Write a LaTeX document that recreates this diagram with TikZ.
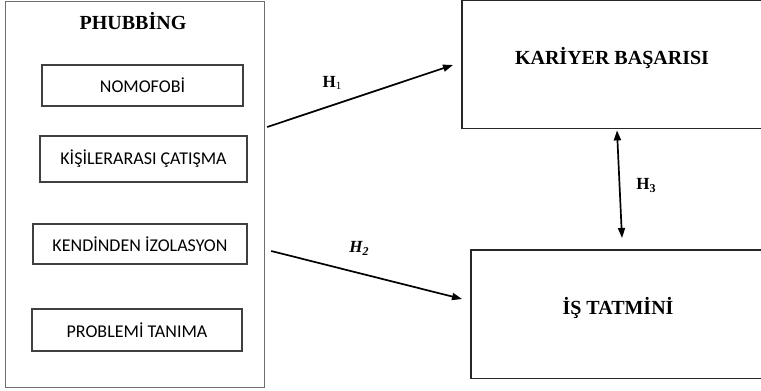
\documentclass[tikz,border=0pt]{standalone}
\usepackage{fontspec}
\setmainfont{Liberation Serif}
\newfontfamily\calibrifont{Carlito}
\usetikzlibrary{arrows.meta}
\definecolor{boxgray}{HTML}{6E6E6E}
\definecolor{innergray}{HTML}{404040}
\tikzset{
  outerbox/.style={draw=boxgray, line width=1.2pt, inner sep=0pt, anchor=north west},
  innerbox/.style={draw=innergray, line width=1.1pt, inner sep=0pt, font=\calibrifont\fontsize{18}{20}\selectfont},
  rightbox/.style={inner sep=0pt, anchor=north west},
  rightline/.style={draw=black!85, line width=1.2pt},
  titletext/.style={font=\bfseries\fontsize{20}{22}\selectfont, inner sep=0pt},
  htext/.style={font=\bfseries\fontsize{17}{19}\selectfont, inner sep=0pt},
  arr/.style={line width=1.7pt, -{Triangle[length=10pt,width=7pt]}},
  darr/.style={line width=1.7pt, {Triangle[length=10pt,width=7pt]}-{Triangle[length=10pt,width=7pt]}},
}
\begin{document}
\begin{tikzpicture}[x=1pt,y=-1pt]
\useasboundingbox (0,0) rectangle (761,391);
\clip (0,0) rectangle (761,391);
\fill[white] (0,0) rectangle (761,391);
% left big box
\node[outerbox, minimum width=259pt, minimum height=386pt] (phub) at (5,1) {};
\node[titletext] (phubt) at (133,21) {PHUBBİNG};
\node[innerbox, minimum width=201pt, minimum height=41pt] (nomo) at (142.5,85.5) {NOMOFOBİ};
\node[innerbox, minimum width=207pt, minimum height=46pt] (kisi) at (143.5,159) {KİŞİLERARASI ÇATIŞMA};
\node[innerbox, minimum width=214pt, minimum height=40pt] (kend) at (140,244) {KENDİNDEN İZOLASYON};
\node[innerbox, minimum width=210pt, minimum height=42pt] (prob) at (137,330) {PROBLEMİ TANIMA};
% right boxes (open on the right: they run past the picture's edge)
\node[rightbox, minimum width=330pt, minimum height=127.5pt] (kb) at (462,0.5) {};
\draw[rightline] (kb.north east) -- (kb.north west) -- (kb.south west) -- (kb.south east);
\node[titletext] (kbt) at (612,58) {KARİYER BAŞARISI};
\node[rightbox, minimum width=330pt, minimum height=128pt] (is) at (471,250) {};
\draw[rightline] (is.north east) -- (is.north west) -- (is.south west) -- (is.south east);
\node[titletext] (ist) at (618,308) {İŞ TATMİNİ};
% arrows
\draw[arr] ([shift={(2,126)}]phub.north east) -- ([shift={(-9,64.5)}]kb.north west);
\draw[arr] ([shift={(6,250)}]phub.north east) -- ([shift={(-9,49)}]is.north west);
\draw[darr] ([shift={(155,2)}]kb.south west) -- ([shift={(151,-12)}]is.north west);
% labels
\node[htext] (h1) at (332,83) {H\textmd{\fontsize{11}{12}\selectfont\raisebox{-2pt}{1}}};
\node[htext] (h2) at (359,248) {\itshape H\raisebox{-3pt}{\fontsize{12}{13}\selectfont 2}};
\node[htext] (h3) at (646,185) {H\raisebox{-3pt}{\fontsize{12}{13}\selectfont 3}};
\end{tikzpicture}
\end{document}
